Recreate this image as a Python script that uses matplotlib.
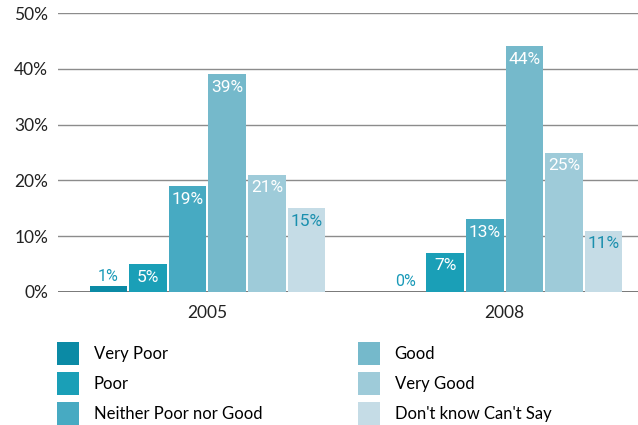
"""Survey ratings by year, grouped bar chart."""

import matplotlib.pyplot as plt
import numpy as np

YEARS = ["2005", "2008"]
CATEGORIES = [
    "Very Poor",
    "Poor",
    "Neither Poor nor Good",
    "Good",
    "Very Good",
    "Don't know Can't Say",
]
# percent per category, one list per year
VALUES_2005 = [1, 5, 19, 39, 21, 15]
VALUES_2008 = [0, 7, 13, 44, 25, 11]

COLORS = ["#0b8aa5", "#1a9fb7", "#47aac2", "#75b9cb", "#9ecbd9", "#c5dce6"]
LABEL_COLORS = ["#1a8fae", "white", "white", "white", "white", "#1a8fae"]

plt.rcParams["font.family"] = ["Lato", "DejaVu Sans"]

fig = plt.figure(figsize=(6.38, 4.25), dpi=100)
ax = fig.add_axes([58 / 638, 1 - 292 / 425, 1 - 58 / 638, (292 - 13) / 425])

n = len(CATEGORIES)
group_w = 0.8
w = group_w / n
x = np.arange(len(YEARS))

for i, cat in enumerate(CATEGORIES):
    vals = [VALUES_2005[i], VALUES_2008[i]]
    pos = x + (i - (n - 1) / 2) * w
    bars = ax.bar(pos, vals, width=w * 0.95, color=COLORS[i], label=cat, zorder=3)
    for b, v in zip(bars, vals):
        cx = b.get_x() + b.get_width() / 2
        if v < 3:
            ax.annotate(f"{v}%", (cx, v), xytext=(0, 2), textcoords="offset points",
                        ha="center", va="bottom", color="#1a9ab8", fontsize=11.5,
                        family=["Roboto", "DejaVu Sans"], zorder=4)
        else:
            ax.annotate(f"{v}%", (cx, v), xytext=(0, -4), textcoords="offset points",
                        ha="center", va="top", color=LABEL_COLORS[i], fontsize=12.5,
                        family=["Roboto", "DejaVu Sans"], zorder=4)

ax.set_ylim(0, 50)
ax.set_xlim(-0.503, 1.449)
ax.set_yticks(range(0, 51, 10))
ax.set_yticklabels([f"{t}%" for t in range(0, 51, 10)], fontsize=12.5, color="#222222")
ax.set_xticks(x)
ax.set_xticklabels(YEARS, fontsize=12.5, color="#222222")
ax.tick_params(length=0)
ax.tick_params(axis="y", pad=7)
ax.tick_params(axis="x", pad=9)
for s in ax.spines.values():
    s.set_visible(False)
ax.yaxis.grid(True, color="#8c8c8c", linewidth=1, zorder=0)
ax.axhline(0, color="#666666", linewidth=1.2, zorder=2)

handles, labels = ax.get_legend_handles_labels()
fig.legend(handles, labels, ncol=2, loc="upper left",
           bbox_to_anchor=(57 / 638, 1 - 342 / 425), borderpad=0, borderaxespad=0,
           frameon=False, fontsize=12, handlelength=1.3, handleheight=1.7,
           handletextpad=0.9, columnspacing=5.75, labelspacing=0.45)

fig.savefig("out.png", dpi=100)
